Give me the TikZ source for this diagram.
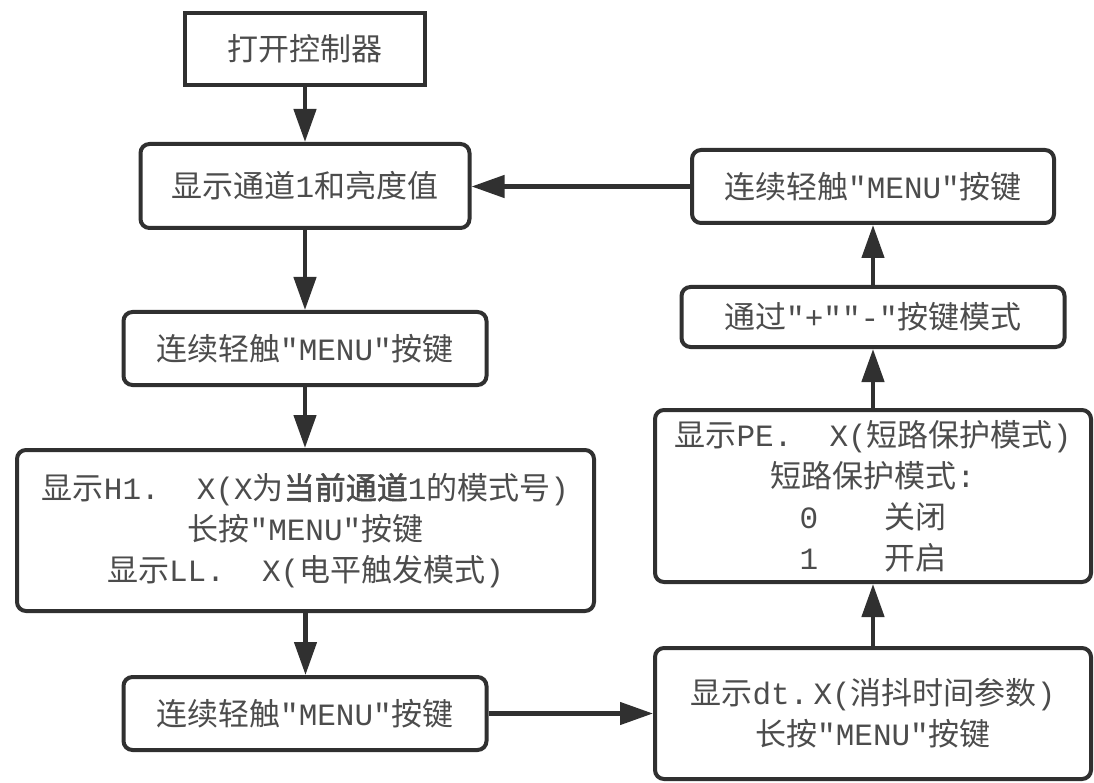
\documentclass[tikz,border=0pt]{standalone}
\usepackage{fontspec}
\setmainfont{Noto Sans CJK SC}
\newfontfamily\cjkbold[FakeBold=1.6]{Noto Sans CJK SC}
\newfontfamily\latmono{Liberation Mono}
\newcommand{\lat}[1]{{\latmono #1}}
\usetikzlibrary{arrows.meta}
\definecolor{ln}{HTML}{303030}
\definecolor{tx}{HTML}{4C4C4C}
\begin{document}
\begin{tikzpicture}[x=1pt,y=-1pt,
  box/.style={draw=ln, line width=4pt, rounded corners=9pt, text=tx, align=center,
    font=\fontsize{31}{41}\selectfont, inner sep=0pt},
  arr/.style={draw=ln, line width=4.5pt, -{Triangle[length=33pt,width=22pt]}}]
\useasboundingbox (0,0) rectangle (1094,783);
\fill[white] (0,0) rectangle (1094,783);

\node[box, rounded corners=0pt, minimum width=240pt, minimum height=72pt] (b1) at (305,49) {打开控制器};
\node[box, minimum width=329pt, minimum height=84pt] (b2) at (305,186) {显示通道\lat{1}和亮度值};
\node[box, minimum width=363pt, minimum height=73pt] (b3) at (305,348.5) {连续轻触\lat{″MENU″}按键};
\node[box, minimum width=577pt, minimum height=161pt] (b4) at (305.5,530.5)
  {显示\lat{H1.\ \ X(X}为{\cjkbold 当前通道}\lat{1}的模式号\lat{)}\\
   长按\lat{″MENU″}按键\\
   显示\lat{LL.\ \ X(}电平触发模式\lat{)}};
\node[box, minimum width=363pt, minimum height=73pt] (b5) at (305,713.5) {连续轻触\lat{″MENU″}按键};
\node[box, minimum width=436pt, minimum height=131pt] (b6) at (873,713.5)
  {显示\lat{dt.\,X(}消抖时间参数\lat{)}\\长按\lat{″MENU″}按键};
\node[box, minimum width=436pt, minimum height=172pt] (b7) at (873,496)
  {显示\lat{PE.\ \ X(}短路保护模式\lat{)}\\
   短路保护模式\lat{:}\\
   \lat{0}\hspace{66pt}关闭\\
   \lat{1}\hspace{66pt}开启};
\node[box, minimum width=383pt, minimum height=60pt] (b8) at (873,317) {通过\lat{″+″″-″}按键模式};
\node[box, minimum width=362pt, minimum height=73pt] (b9) at (873,186.5) {连续轻触\lat{″MENU″}按键};

\draw[arr] (b1.south) -- (b1.south |- b2.north);
\draw[arr] (b2.south) -- (b2.south |- b3.north);
\draw[arr] (b3.south) -- (b3.south |- b4.north);
\draw[arr] (b4.south) -- (b4.south |- b5.north);
\draw[arr] (b5.east) -- (b5.east -| b6.west);
\draw[arr] (b6.north) -- (b6.north |- b7.south);
\draw[arr] (b7.north) -- (b7.north |- b8.south);
\draw[arr] (b8.north) -- (b8.north |- b9.south);
\draw[arr] (b9.west) -- (b9.west -| b2.east);
\end{tikzpicture}
\end{document}
